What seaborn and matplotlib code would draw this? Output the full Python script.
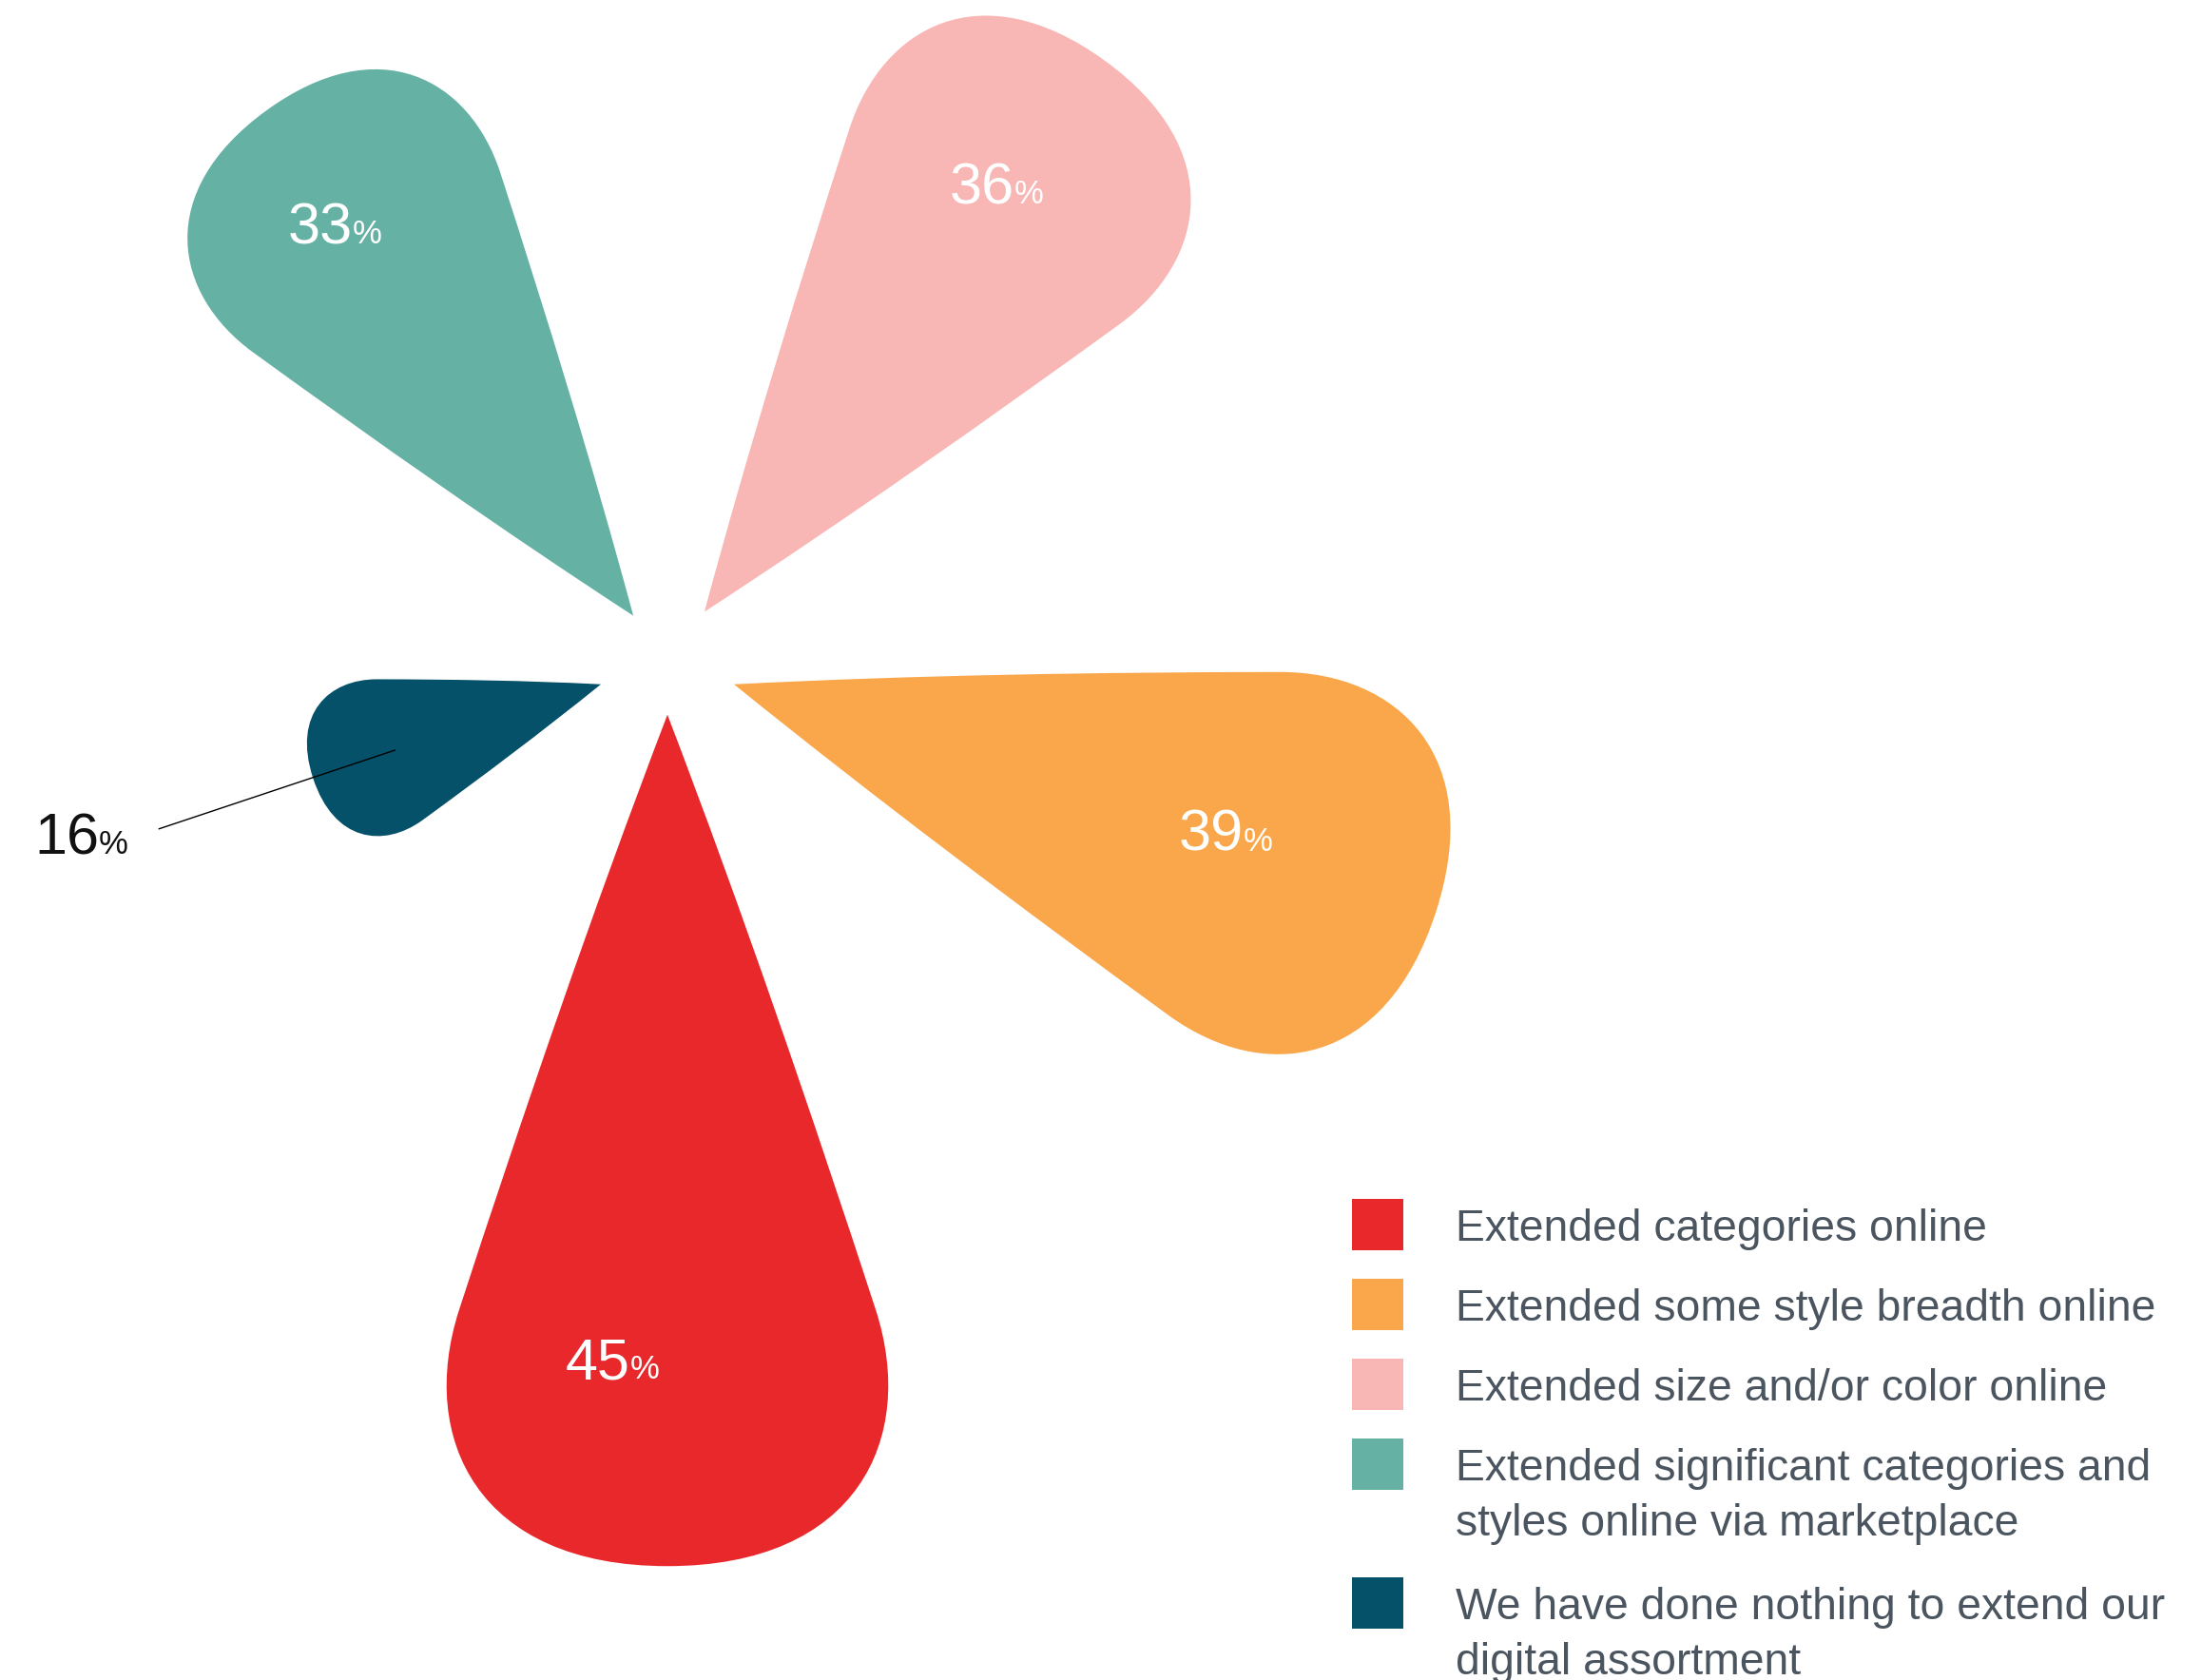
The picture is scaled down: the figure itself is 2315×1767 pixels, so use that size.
import numpy as np
import matplotlib
matplotlib.use("Agg")
import matplotlib.pyplot as plt
from matplotlib.path import Path
from matplotlib.patches import PathPatch, Rectangle
import seaborn as sns

# ---- data -------------------------------------------------------------
categories = [
    "Extended categories online",
    "Extended some style breadth online",
    "Extended size and/or color online",
    "Extended significant categories and\nstyles online via marketplace",
    "We have done nothing to extend our\ndigital assortment",
]
shares = [45, 39, 36, 33, 16]
share_labels = ["45", "39", "36", "33", "16"]
colors = ["#E9282C", "#F9A74A", "#F8B6B4", "#65B1A4", "#045169"]

# ---- style / layout ---------------------------------------------------
sns.set_theme(style="white")
plt.rcParams["font.family"] = ["Liberation Sans", "DejaVu Sans"]
palette = sns.color_palette(colors)

W, H, DPI = 2315, 1767, 100
PX_PER_UNIT = 19.9          # pixels per percentage point
CENTER_PX = (702, 697)      # flower centre on the canvas
START_ANGLE = -90.0         # first petal points straight down
STEP = 360.0 / len(shares)
tip_offset = [2.75, 3.7, 3.33, 3.07, 3.7]   # empty space before each petal tip

fig = plt.figure(figsize=(W / DPI, H / DPI), dpi=DPI)
fig.patch.set_facecolor("white")
ax = fig.add_axes([0, 0, 1, 1])
ax.set_xlim(-CENTER_PX[0] / PX_PER_UNIT, (W - CENTER_PX[0]) / PX_PER_UNIT)
ax.set_ylim(-(H - CENTER_PX[1]) / PX_PER_UNIT, CENTER_PX[1] / PX_PER_UNIT)
ax.set_aspect("equal")
ax.set_axis_off()

# teardrop outline of unit length: tip at u=0, blunt rounded end at u=1
half = [(0.23, 0.088), (0.47, 0.17), (0.70, 0.245),
        (0.85, 0.293), (1.0, 0.223), (1.0, 0.0)]
outline = [(0.0, 0.0)] + half + [(u, -v) for u, v in half[::-1][1:]] + [(0.0, 0.0)]
codes = [Path.MOVETO] + [Path.CURVE4] * (len(outline) - 1) + [Path.CLOSEPOLY]
outline = np.array(outline + [(0.0, 0.0)])


def polar(r, deg):
    t = np.deg2rad(deg)
    return r * np.cos(t), r * np.sin(t)


def petal_path(value, deg, offset):
    t = np.deg2rad(deg)
    e = np.array([np.cos(t), np.sin(t)])
    n = np.array([-np.sin(t), np.cos(t)])
    pts = (offset + outline[:, :1] * value) * e + (outline[:, 1:] * value) * n
    return Path(pts, codes)


angles = [START_ANGLE + STEP * i for i in range(len(shares))]
for value, deg, off, col in zip(shares, angles, tip_offset, palette):
    ax.add_patch(PathPatch(petal_path(value, deg, off), facecolor=col,
                           edgecolor="none", lw=0))

# value labels: inside the large petals, outside with a leader for small ones
label_r = [37.9, 32.0, 30.4, 27.7]
label_turn = [-3.0, -0.1, -1.1, 0.9]
for i, (value, deg, txt) in enumerate(zip(shares, angles, share_labels)):
    if value >= 20:
        x, y = polar(label_r[i], deg + label_turn[i])
        color = "white"
    else:
        x0, y0 = polar(15.1, deg - 0.2)
        x1, y1 = polar(28.3, deg + 0.1)
        ax.plot([x0, x1], [y0, y1], color="black", lw=1.0,
                solid_capstyle="butt")
        x, y = polar(31.7, deg + 0.6)
        color = "#111111"
    ax.text(x, y, txt, ha="right", va="baseline", fontsize=44, color=color)
    ax.text(x, y, "%", ha="left", va="baseline", fontsize=25, color=color)

# ---- legend -----------------------------------------------------------
def fx(px):
    return px / W


def fy(py):
    return 1 - py / H


SQ_LEFT, SQ_SIZE, TEXT_X = 1422, 54, 1531
ROW_STEP, LINE_STEP = 84, 58
top = 1261
for label, col in zip(categories, palette):
    fig.patches.append(Rectangle((fx(SQ_LEFT), fy(top + SQ_SIZE)),
                                 SQ_SIZE / W, SQ_SIZE / H,
                                 transform=fig.transFigure,
                                 facecolor=col, edgecolor="none"))
    lines = label.split("\n")
    for k, line in enumerate(lines):
        fig.text(fx(TEXT_X), fy(top + 44 + LINE_STEP * k), line,
                 ha="left", va="baseline", fontsize=33.3, color="#4B5560")
    top += ROW_STEP + (LINE_STEP + 4) * (len(lines) - 1)

fig.savefig("out.png", dpi=DPI, facecolor="white")
